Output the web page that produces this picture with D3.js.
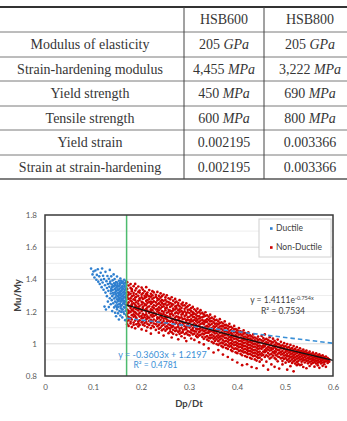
<!DOCTYPE html>
<html><head><meta charset="utf-8">
<script src="https://cdn.jsdelivr.net/npm/d3@7"></script>
<style>body{margin:0;background:#fff}svg{display:block}</style>
</head><body>
<script>
// ---------- Table data ----------
const tableColumns = ["", "HSB600", "HSB800"];
const tableProperties = ["Modulus of elasticity", "Strain-hardening modulus", "Yield strength", "Tensile strength", "Yield strain", "Strain at strain-hardening"];
const hsb600Values = ["205", "4,455", "450", "600", "0.002195", "0.002195"];
const hsb600Units = ["GPa", "MPa", "MPa", "MPa", "", ""];
const hsb800Values = ["205", "3,222", "690", "800", "0.003366", "0.003366"];
const hsb800Units = ["GPa", "MPa", "MPa", "MPa", "", ""];

// ---------- Chart data ----------
const xTicks = [0, 0.1, 0.2, 0.3, 0.4, 0.5, 0.6];
const xTickLabels = ["0", "0.1", "0.2", "0.3", "0.4", "0.5", "0.6"];
const yTicks = [0.8, 1.0, 1.2, 1.4, 1.6, 1.8];
const yTickLabels = ["0.8", "1", "1.2", "1.4", "1.6", "1.8"];
const yMinorTicks = [0.9, 1.1, 1.3, 1.5, 1.7];
const seriesNames = ["Ductile", "Non-Ductile"];
const ductileLimit = 0.17;
const expFit = {a: 1.4111, b: -0.754, r2: "0.7534"};
const linFit = {m: -0.3603, c: 1.2197, r2: "0.4781"};
const trendXs = [0.17, 0.2, 0.25, 0.3, 0.35, 0.4, 0.45, 0.5, 0.55, 0.6];
const linTrendXs = [0.17, 0.6];

// Ductile points [Dp/Dt, Mu/My]
const ductile = [
[0.096,1.467],[0.099,1.431],[0.101,1.449],[0.103,1.412],[0.105,1.455],[0.107,1.398],[0.108,1.428],[0.110,1.463],
[0.111,1.386],[0.113,1.419],[0.114,1.371],[0.116,1.441],[0.117,1.397],[0.118,1.352],[0.119,1.468],[0.120,1.381],
[0.121,1.423],[0.122,1.336],[0.123,1.402],[0.124,1.231],[0.125,1.364],[0.126,1.447],[0.126,1.318],[0.127,1.213],
[0.128,1.389],[0.129,1.347],[0.129,1.296],[0.130,1.421],[0.131,1.371],[0.131,1.262],[0.132,1.329],[0.133,1.404],
[0.133,1.228],[0.134,1.354],[0.135,1.283],[0.135,1.459],[0.136,1.387],[0.137,1.312],[0.137,1.246],[0.138,1.341],
[0.138,1.419],[0.139,1.368],[0.139,1.271],[0.140,1.296],[0.140,1.203],[0.141,1.394],[0.141,1.334],[0.142,1.358],
[0.142,1.252],[0.143,1.431],[0.143,1.306],[0.144,1.376],[0.144,1.281],[0.144,1.226],
[0.145,1.339],[0.145,1.402],[0.146,1.262],[0.146,1.318],[0.146,1.193],[0.147,1.364],[0.147,1.289],[0.147,1.237],
[0.148,1.384],[0.148,1.327],[0.148,1.171],[0.149,1.301],[0.149,1.256],[0.149,1.352],[0.150,1.418],[0.150,1.214],
[0.150,1.276],[0.151,1.338],[0.151,1.371],[0.151,1.243],[0.152,1.296],[0.152,1.189],[0.152,1.317],[0.153,1.356],
[0.153,1.264],[0.153,1.229],[0.154,1.392],[0.154,1.309],[0.154,1.151],[0.155,1.341],[0.155,1.278],[0.155,1.203],
[0.156,1.367],[0.156,1.248],[0.156,1.324],[0.157,1.288],[0.157,1.176],[0.157,1.406],[0.158,1.349],[0.158,1.221],
[0.158,1.261],[0.159,1.311],[0.159,1.377],[0.159,1.198],[0.160,1.334],[0.160,1.272],[0.160,1.241],[0.161,1.358],
[0.161,1.296],[0.161,1.164],[0.162,1.386],[0.162,1.319],[0.162,1.213],[0.163,1.252],[0.163,1.343],[0.163,1.282],
[0.164,1.371],[0.164,1.229],[0.164,1.306],[0.165,1.398],[0.165,1.187],[0.165,1.267],[0.166,1.331],[0.166,1.354],
[0.166,1.246],[0.167,1.292],[0.167,1.147],[0.167,1.378],[0.168,1.316],[0.168,1.206],[0.168,1.262],[0.169,1.344],
[0.169,1.236],[0.169,1.179],[0.1695,1.301],[0.1695,1.366],[0.1695,1.273],
[0.1455,1.371],[0.1475,1.311],[0.1495,1.228],[0.1505,1.359],[0.1525,1.334],[0.1535,1.287],[0.1545,1.246],[0.1555,1.377],
[0.1565,1.301],[0.1575,1.234],[0.1585,1.328],[0.1595,1.281],[0.1605,1.213],[0.1615,1.341],[0.1625,1.268],[0.1635,1.197],
[0.1645,1.323],[0.1655,1.289],[0.1665,1.224],[0.1675,1.339],[0.1685,1.281],[0.1685,1.389],[0.1655,1.359],[0.1615,1.379],
[0.1585,1.391],[0.1555,1.316],[0.1525,1.271],[0.1495,1.382],[0.1465,1.343],[0.1435,1.357],[0.1415,1.317],[0.1395,1.352],
[0.1375,1.329],[0.1355,1.376],[0.1665,1.312],[0.1645,1.256],[0.1625,1.298],[0.1605,1.352],[0.1575,1.268],[0.1545,1.359]
];

// Non-ductile points, grouped by Dp/Dt column: [x, [Mu/My ...]]
const nonDuctile = [
[0.1712,[1.383,1.341,1.322,1.297,1.289,1.251,1.244,1.213,1.186,1.171,1.139,1.122]],
[0.1741,[1.362,1.318,1.306,1.279,1.257,1.236,1.204,1.192,1.166,1.148,1.111]],
[0.1783,[1.371,1.347,1.311,1.283,1.269,1.231,1.222,1.197,1.159,1.137,1.126]],
[0.1808,[1.339,1.327,1.294,1.262,1.245,1.238,1.209,1.178,1.151,1.104]],
[0.1846,[1.358,1.315,1.301,1.276,1.252,1.219,1.201,1.183,1.168,1.132,1.117]],
[0.1879,[1.372,1.331,1.287,1.271,1.243,1.226,1.196,1.173,1.144,1.096]],
[0.1902,[1.344,1.309,1.292,1.258,1.233,1.214,1.188,1.162,1.154,1.121]],
[0.1944,[1.356,1.322,1.298,1.267,1.249,1.228,1.207,1.181,1.139,1.127,1.108]],
[0.1971,[1.331,1.318,1.283,1.272,1.236,1.217,1.192,1.169,1.146,1.117]],
[0.2013,[1.349,1.305,1.288,1.261,1.244,1.211,1.203,1.174,1.158,1.133,1.089]],
[0.2038,[1.337,1.314,1.279,1.256,1.229,1.222,1.186,1.161,1.141,1.119]],
[0.2075,[1.326,1.298,1.284,1.248,1.238,1.209,1.178,1.165,1.129,1.112]],
[0.2109,[1.352,1.309,1.291,1.266,1.241,1.217,1.199,1.183,1.152,1.137,1.081]],
[0.2133,[1.318,1.302,1.271,1.253,1.226,1.206,1.171,1.159,1.124,1.103]],
[0.2172,[1.334,1.294,1.278,1.259,1.232,1.198,1.191,1.163,1.142,1.117]],
[0.2206,[1.311,1.293,1.262,1.247,1.214,1.203,1.176,1.148,1.131,1.097,1.063]],
[0.2238,[1.327,1.301,1.279,1.256,1.228,1.209,1.183,1.168,1.139,1.112]],
[0.2267,[1.319,1.286,1.264,1.239,1.222,1.194,1.172,1.151,1.126,1.104]],
[0.2309,[1.304,1.291,1.257,1.236,1.213,1.187,1.179,1.142,1.121,1.086]],
[0.2341,[1.322,1.282,1.269,1.245,1.217,1.201,1.164,1.155,1.133,1.109]],
[0.2372,[1.298,1.276,1.251,1.226,1.208,1.191,1.161,1.137,1.118,1.094,1.069]],
[0.2408,[1.313,1.287,1.263,1.241,1.219,1.188,1.171,1.149,1.129,1.101]],
[0.2436,[1.296,1.272,1.254,1.229,1.203,1.181,1.163,1.132,1.112,1.084]],
[0.2471,[1.306,1.267,1.245,1.233,1.198,1.184,1.156,1.141,1.119,1.092,1.051]],
[0.2509,[1.288,1.273,1.249,1.221,1.209,1.176,1.159,1.127,1.106,1.081]],
[0.2537,[1.301,1.262,1.238,1.224,1.193,1.172,1.151,1.136,1.109,1.091]],
[0.2574,[1.283,1.259,1.244,1.211,1.197,1.168,1.143,1.121,1.099,1.066]],
[0.2608,[1.276,1.253,1.229,1.206,1.184,1.169,1.138,1.116,1.094,1.078]],
[0.2639,[1.289,1.248,1.236,1.201,1.187,1.157,1.143,1.112,1.103,1.071,1.039]],
[0.2671,[1.268,1.244,1.219,1.207,1.176,1.153,1.134,1.108,1.087,1.062]],
[0.2712,[1.279,1.256,1.231,1.213,1.189,1.163,1.147,1.124,1.098,1.079]],
[0.2738,[1.262,1.236,1.221,1.196,1.171,1.146,1.131,1.101,1.083,1.056]],
[0.2776,[1.253,1.241,1.209,1.188,1.167,1.151,1.119,1.106,1.074,1.028]],
[0.2804,[1.271,1.232,1.214,1.198,1.161,1.142,1.127,1.094,1.081,1.062]],
[0.2843,[1.247,1.223,1.204,1.181,1.164,1.138,1.116,1.099,1.069,1.047]],
[0.2871,[1.256,1.238,1.196,1.186,1.153,1.132,1.121,1.087,1.073]],
[0.2909,[1.239,1.217,1.201,1.173,1.156,1.128,1.109,1.089,1.061,1.036]],
[0.2944,[1.251,1.226,1.191,1.179,1.147,1.134,1.103,1.092,1.068,1.017]],
[0.2973,[1.233,1.211,1.196,1.164,1.149,1.121,1.112,1.079,1.057]],
[0.3011,[1.241,1.212,1.191,1.168,1.146,1.131,1.101,1.074,1.052]],
[0.3046,[1.221,1.203,1.178,1.152,1.139,1.113,1.087,1.069,1.033]],
[0.3079,[1.229,1.196,1.183,1.167,1.141,1.118,1.098,1.083,1.058]],
[0.3112,[1.214,1.188,1.166,1.149,1.127,1.106,1.079,1.063,1.024]],
[0.3148,[1.204,1.181,1.158,1.142,1.117,1.094,1.076,1.049]],
[0.3177,[1.218,1.193,1.171,1.148,1.132,1.109,1.089,1.061,1.041]],
[0.3213,[1.199,1.172,1.157,1.135,1.114,1.091,1.072,1.051,1.009]],
[0.3241,[1.209,1.188,1.163,1.144,1.123,1.099,1.081,1.056]],
[0.3279,[1.192,1.166,1.149,1.128,1.102,1.087,1.064,1.043]],
[0.3308,[1.183,1.169,1.139,1.122,1.097,1.078,1.059,1.031,0.996]],
[0.3342,[1.196,1.174,1.146,1.134,1.107,1.084,1.067,1.042]],
[0.3376,[1.177,1.153,1.137,1.111,1.094,1.069,1.048,1.026]],
[0.3409,[1.168,1.149,1.124,1.106,1.081,1.068,1.038,1.019,0.971]],
[0.3441,[1.181,1.157,1.139,1.116,1.093,1.077,1.052,1.034]],
[0.3473,[1.162,1.141,1.123,1.097,1.079,1.057,1.039,1.012]],
[0.3512,[1.155,1.133,1.109,1.093,1.072,1.049,1.031,1.004,0.946]],
[0.3539,[1.169,1.146,1.124,1.105,1.081,1.064,1.038,1.018]],
[0.3574,[1.148,1.126,1.111,1.087,1.066,1.046,1.027,0.998]],
[0.3611,[1.139,1.121,1.098,1.081,1.055,1.038,1.016,0.993,0.961]],
[0.3642,[1.153,1.129,1.107,1.089,1.067,1.044,1.026,1.002]],
[0.3676,[1.134,1.112,1.094,1.071,1.051,1.033,1.008,0.987]],
[0.3707,[1.126,1.108,1.084,1.063,1.046,1.021,1.003,0.979,0.933]],
[0.3744,[1.139,1.116,1.097,1.076,1.054,1.036,1.014,0.992]],
[0.3771,[1.118,1.101,1.078,1.059,1.037,1.019,0.997,0.974]],
[0.3808,[1.112,1.093,1.071,1.052,1.031,1.012,0.989,0.968,0.918]],
[0.3842,[1.124,1.104,1.081,1.064,1.041,1.022,1.001,0.983]],
[0.3875,[1.106,1.085,1.067,1.044,1.027,1.004,0.986,0.961]],
[0.3903,[1.098,1.079,1.058,1.039,1.018,0.999,0.976,0.954,0.901]],
[0.3941,[1.111,1.089,1.071,1.049,1.031,1.008,0.991,0.969]],
[0.3972,[1.092,1.072,1.053,1.033,1.012,0.994,0.971,0.947]],
[0.4006,[1.084,1.066,1.044,1.026,1.004,0.986,0.966,0.942,0.884]],
[0.4039,[1.097,1.076,1.057,1.036,1.017,0.996,0.978,0.956]],
[0.4074,[1.078,1.058,1.039,1.019,0.999,0.981,0.959,0.938]],
[0.4107,[1.071,1.052,1.031,1.013,0.992,0.974,0.953,0.929,0.867]],
[0.4138,[1.083,1.063,1.043,1.024,1.004,0.985,0.964,0.946]],
[0.4171,[1.066,1.045,1.026,1.008,0.987,0.969,0.948,0.924]],
[0.4209,[1.058,1.039,1.019,1.001,0.981,0.962,0.942,0.918,0.873]],
[0.4236,[1.071,1.049,1.031,1.011,0.993,0.972,0.954,0.935]],
[0.4273,[1.052,1.033,1.013,0.994,0.976,0.956,0.937,0.913]],
[0.4304,[1.046,1.026,1.007,0.988,0.969,0.951,0.931,0.907,0.856]],
[0.4339,[1.058,1.038,1.018,0.999,0.981,0.961,0.943,0.923]],
[0.4371,[1.039,1.021,1.001,0.983,0.963,0.945,0.926,0.903]],
[0.4408,[1.033,1.014,0.995,0.976,0.958,0.939,0.919,0.896,0.848]],
[0.4439,[1.045,1.024,1.006,0.987,0.969,0.949,0.931,0.912]],
[0.4472,[1.028,1.008,0.989,0.971,0.952,0.934,0.914,0.889]],
[0.4513,[1.049,1.022,1.008,0.983,0.969,0.941,0.927,0.902]],
[0.4548,[1.036,1.017,0.991,0.978,0.952,0.931,0.864]],
[0.4579,[1.058,1.026,1.003,0.986,0.961,0.948,0.918]],
[0.4612,[1.031,1.011,0.997,0.972,0.956,0.929,0.889]],
[0.4647,[1.024,1.006,0.981,0.964,0.943,0.921,0.839]],
[0.4681,[1.041,1.017,0.993,0.976,0.958,0.933,0.908]],
[0.4716,[1.013,0.998,0.974,0.961,0.937,0.915,0.872]],
[0.4749,[1.032,1.009,0.986,0.969,0.948,0.926]],
[0.4783,[1.019,0.994,0.978,0.953,0.941,0.912,0.857]],
[0.4812,[1.007,0.989,0.967,0.951,0.929,0.904]],
[0.4848,[1.026,0.999,0.981,0.962,0.938,0.921,0.891]],
[0.4879,[0.996,0.978,0.959,0.943,0.918,0.846]],
[0.4914,[1.012,0.987,0.971,0.949,0.933,0.909]],
[0.4947,[0.991,0.973,0.955,0.936,0.914,0.893,0.872]],
[0.4981,[1.004,0.982,0.968,0.944,0.927,0.906]],
[0.5012,[0.986,0.963,0.949,0.929,0.911,0.883]],
[0.5046,[0.998,0.976,0.957,0.938,0.922,0.899,0.839]],
[0.5079,[0.979,0.961,0.946,0.924,0.907,0.889]],
[0.5113,[0.993,0.969,0.952,0.934,0.916,0.894,0.861]],
[0.5148,[0.974,0.958,0.939,0.921,0.903,0.881]],
[0.5179,[0.986,0.963,0.947,0.928,0.912,0.891,0.829]],
[0.5211,[0.968,0.951,0.935,0.916,0.898,0.877]],
[0.5247,[0.979,0.957,0.943,0.924,0.907,0.886,0.867]],
[0.5279,[0.961,0.946,0.928,0.911,0.893,0.874]],
[0.5313,[0.972,0.953,0.936,0.919,0.902,0.868]],
[0.5346,[0.956,0.939,0.923,0.906,0.889,0.871]],
[0.5381,[0.964,0.947,0.931,0.913,0.897,0.856]],
[0.5412,[0.951,0.933,0.918,0.901,0.884]],
[0.5447,[0.958,0.942,0.926,0.908,0.893,0.848]],
[0.5479,[0.944,0.929,0.912,0.896,0.879]],
[0.5513,[0.951,0.936,0.919,0.904,0.887,0.862]],
[0.5548,[0.938,0.922,0.907,0.891,0.874]],
[0.5582,[0.945,0.929,0.913,0.898,0.882]],
[0.5614,[0.933,0.917,0.902,0.886,0.858]],
[0.5649,[0.941,0.924,0.909,0.894,0.877]],
[0.5683,[0.928,0.913,0.897,0.883,0.866]],
[0.5716,[0.934,0.919,0.904,0.888,0.851]],
[0.5749,[0.923,0.907,0.893,0.878]],
[0.5784,[0.929,0.914,0.899,0.884,0.863]],
[0.5818,[0.917,0.902,0.887,0.873]],
[0.5852,[0.921,0.906,0.891,0.857]],
[0.5889,[0.911,0.896,0.881]],
[0.5921,[0.903,0.889]]
];

const W = 347, H = 421;
const svg = d3.select("body").append("svg").attr("width", W).attr("height", H);

// ---------- Table ----------
const serif = "'Liberation Serif','Noto Serif','DejaVu Serif',serif";
const rowTops = [7, 32, 57, 81, 106, 130, 155, 179];
const colEdges = [0, 184, 264, 347];
const colCenters = [90, 224, 310];
const tbl = svg.append("g").style("font-family", serif).style("font-size", "14px").attr("fill", "#363636");
rowTops.slice(1, -1).forEach(y => tbl.append("line").attr("x1", 0).attr("x2", W).attr("y1", y).attr("y2", y).attr("stroke", "#7a7a7a").attr("stroke-width", 1));
tbl.append("line").attr("x1", 0).attr("x2", W).attr("y1", rowTops[0]).attr("y2", rowTops[0]).attr("stroke", "#333").attr("stroke-width", 2);
tbl.append("line").attr("x1", 0).attr("x2", W).attr("y1", rowTops[7]).attr("y2", rowTops[7]).attr("stroke", "#555").attr("stroke-width", 1.5);
[1, 2].forEach(i => tbl.append("line").attr("x1", colEdges[i]).attr("x2", colEdges[i]).attr("y1", rowTops[0]).attr("y2", rowTops[7]).attr("stroke", "#444").attr("stroke-width", 1));
const rowMid = i => (rowTops[i] + rowTops[i + 1]) / 2;
tableColumns.forEach((c, j) => {
  tbl.append("text").attr("x", colCenters[j]).attr("y", rowMid(0)).attr("dy", "0.35em").attr("text-anchor", "middle").text(c);
});
function valueCell(x, y, v, u) {
  const t = tbl.append("text").attr("x", x).attr("y", y).attr("dy", "0.35em").attr("text-anchor", "middle");
  t.append("tspan").text(u ? v + " " : v);
  if (u) t.append("tspan").style("font-style", "italic").text(u);
}
tableProperties.forEach((p, i) => {
  const y = rowMid(i + 1);
  tbl.append("text").attr("x", colCenters[0]).attr("y", y).attr("dy", "0.35em").attr("text-anchor", "middle").text(p);
  valueCell(colCenters[1], y, hsb600Values[i], hsb600Units[i]);
  valueCell(colCenters[2], y, hsb800Values[i], hsb800Units[i]);
});

// ---------- Chart ----------
const sans = "Lato, 'Open Sans', sans-serif";
const x = d3.scaleLinear().domain([0, 0.6]).range([45, 333]);
const y = d3.scaleLinear().domain([0.8, 1.8]).range([376, 215]);
const blue = "#2e7fcf", red = "#cc0000";
const ch = svg.append("g").style("font-family", sans);

// gridlines
ch.append("g").selectAll("line").data(yMinorTicks).join("line")
  .attr("x1", x(0)).attr("x2", x(0.6)).attr("y1", d => y(d)).attr("y2", d => y(d))
  .attr("stroke", "#eeeeee").attr("stroke-width", 1);
ch.append("g").selectAll("line").data(yTicks.slice(1, -1)).join("line")
  .attr("x1", x(0)).attr("x2", x(0.6)).attr("y1", d => y(d)).attr("y2", d => y(d))
  .attr("stroke", "#d9d9d9").attr("stroke-width", 1);

// points
const flat = cols => cols.flatMap(([px, ys]) => ys.map(py => [px, py]));
ch.append("g").selectAll("circle").data(ductile).join("circle")
  .attr("cx", d => x(d[0])).attr("cy", d => y(d[1])).attr("r", 1.3).attr("fill", blue);
ch.append("g").selectAll("circle").data(flat(nonDuctile)).join("circle")
  .attr("cx", d => x(d[0])).attr("cy", d => y(d[1])).attr("r", 1.35).attr("fill", red);

// green limit line
ch.append("line").attr("x1", x(ductileLimit)).attr("x2", x(ductileLimit)).attr("y1", y(1.8)).attr("y2", y(0.8))
  .attr("stroke", "#4dbb6e").attr("stroke-width", 1.5);

// trendlines
ch.append("path").datum(linTrendXs)
  .attr("d", d3.line().x(d => x(d)).y(d => y(linFit.m * d + linFit.c)))
  .attr("fill", "none").attr("stroke", "#3a8fd6").attr("stroke-width", 1.6).attr("stroke-dasharray", "4.5,3");
ch.append("path").datum(trendXs)
  .attr("d", d3.line().curve(d3.curveMonotoneX).x(d => x(d)).y(d => y(expFit.a * Math.exp(expFit.b * d))))
  .attr("fill", "none").attr("stroke", "#111").attr("stroke-width", 1.3);

// axes
const xAxis = ch.append("g").attr("transform", `translate(0,${y(0.8)})`)
  .call(d3.axisBottom(x).tickValues(xTicks).tickFormat((d, i) => xTickLabels[i]).tickSize(0).tickPadding(8));
const yAxis = ch.append("g").attr("transform", `translate(${x(0)},0)`)
  .call(d3.axisLeft(y).tickValues(yTicks).tickFormat((d, i) => yTickLabels[i]).tickSize(0).tickPadding(8));
[xAxis, yAxis].forEach(a => {
  a.select(".domain").remove();
  a.selectAll("text").style("font-family", sans).attr("font-size", 8).attr("fill", "#595959");
});

// plot border
ch.append("rect").attr("x", x(0)).attr("y", y(1.8)).attr("width", x(0.6) - x(0)).attr("height", y(0.8) - y(1.8))
  .attr("fill", "none").attr("stroke", "#3a3a3a").attr("stroke-width", 1.5);

// axis titles
ch.append("text").attr("x", (x(0) + x(0.6)) / 2).attr("y", 404).attr("dy", "0.35em").attr("text-anchor", "middle")
  .attr("font-size", 9.5).attr("font-weight", "bold").attr("fill", "#404040").text("Dp/Dt");
ch.append("text").attr("transform", `translate(17.5,${(y(0.8) + y(1.8)) / 2}) rotate(-90)`).attr("dy", "0.35em")
  .attr("text-anchor", "middle").attr("font-size", 9.5).attr("font-weight", "bold").attr("fill", "#404040").text("Mu/My");

// equation labels
const eq1 = ch.append("text").attr("x", 282).attr("y", 300).attr("dy", "0.35em").attr("text-anchor", "middle")
  .attr("font-size", 8.5).attr("fill", "#404040");
eq1.append("tspan").text("y = " + expFit.a + "e");
eq1.append("tspan").attr("font-size", 5.5).attr("dy", "-0.5em").text(expFit.b + "x");
ch.append("text").attr("x", 283).attr("y", 311).attr("dy", "0.35em").attr("text-anchor", "middle")
  .attr("font-size", 8.5).attr("fill", "#404040").text("R² = " + expFit.r2);
ch.append("text").attr("x", 162.5).attr("y", 355).attr("dy", "0.35em").attr("text-anchor", "middle")
  .attr("font-size", 9).attr("fill", "#3a8fd6").text("y = " + linFit.m + "x + " + linFit.c);
ch.append("text").attr("x", 155.5).attr("y", 365.5).attr("dy", "0.35em").attr("text-anchor", "middle")
  .attr("font-size", 8.5).attr("fill", "#3a8fd6").text("R² = " + linFit.r2);

// legend
const lg = ch.append("g");
lg.append("rect").attr("x", 259).attr("y", 219).attr("width", 72).attr("height", 38)
  .attr("fill", "#fff").attr("stroke", "#d0d0d0").attr("stroke-width", 1);
[blue, red].forEach((c, i) => {
  const ly = 228.5 + i * 19;
  lg.append("rect").attr("x", 270).attr("y", ly - 1.3).attr("width", 2.6).attr("height", 2.6).attr("fill", c);
  lg.append("text").attr("x", 276).attr("y", ly).attr("dy", "0.35em").attr("font-size", 8.5).attr("fill", "#404040").text(seriesNames[i]);
});
</script>
</body></html>
